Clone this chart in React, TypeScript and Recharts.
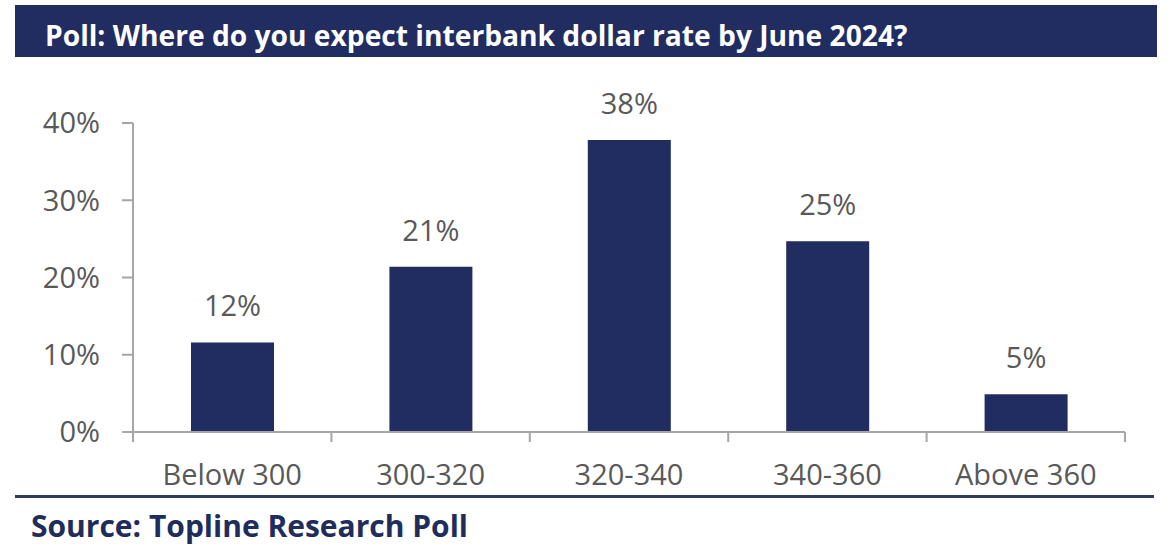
import { BarChart, Bar, XAxis, YAxis, LabelList } from "recharts";

// poll buckets and share of respondents (%)
const categories = ["Below 300", "300-320", "320-340", "340-360", "Above 360"];
const shares = [11.6, 21.4, 37.8, 24.7, 4.9];
const yTicks = [0, 10, 20, 30, 40];

const title = "Poll: Where do you expect interbank dollar rate by June 2024?";
const source = "Source: Topline Research Poll";

const NAVY = "#212d61";
const GREY_TEXT = "#595959";
const AXIS = "#a6a6a6";
const FONT = "'Open Sans', sans-serif";
const TICK_SIZE = 10;
const TICK_MARGIN = 2;

const data = categories.map((name, i) => ({ name, share: shares[i] }));

function CategoryTick(props: any) {
  const { x, y, payload, index } = props;
  const half = payload.offset ?? 0;
  const axisY = y - TICK_SIZE - TICK_MARGIN;
  return (
    <g>
      <line x1={x - half} x2={x - half} y1={axisY} y2={axisY + TICK_SIZE} stroke={AXIS} strokeWidth={2} />
      {index === categories.length - 1 && (
        <line x1={x + half} x2={x + half} y1={axisY} y2={axisY + TICK_SIZE} stroke={AXIS} strokeWidth={2} />
      )}
      <text x={x} y={y + 41} textAnchor="middle" fill={GREY_TEXT} fontSize={29} fontFamily={FONT}>
        {payload.value}
      </text>
    </g>
  );
}

export default function App() {
  return (
    <div style={{ position: "absolute", left: 0, top: 0, width: 1173, height: 554, background: "#fff", fontFamily: FONT }}>
      <div
        style={{
          position: "absolute",
          left: 15,
          top: 5,
          width: 1142,
          height: 52,
          background: NAVY,
          color: "#fff",
          fontWeight: 700,
          fontSize: 28.2,
          lineHeight: "60px",
          paddingLeft: 30,
          boxSizing: "border-box",
          whiteSpace: "nowrap",
        }}
      >
        <div style={{ height: 52, overflow: "visible" }}>{title}</div>
      </div>

      <div style={{ position: "absolute", left: 0, top: 0 }}>
        <BarChart
          width={1173}
          height={554}
          data={data}
          margin={{ top: 123, right: 48, bottom: 82, left: 53 }}
        >
          <XAxis
            dataKey="name"
            axisLine={{ stroke: AXIS, strokeWidth: 2 }}
            tickLine={false}
            tickSize={TICK_SIZE}
            tickMargin={TICK_MARGIN}
            height={40}
            interval={0}
            tick={<CategoryTick />}
          />
          <YAxis
            domain={[0, 40]}
            ticks={yTicks}
            width={80}
            tickFormatter={(v) => `${v}%`}
            axisLine={{ stroke: AXIS, strokeWidth: 2 }}
            tickLine={{ stroke: AXIS, strokeWidth: 2 }}
            tickSize={11}
            tickMargin={22}
            tick={{ fill: GREY_TEXT, fontSize: 29, fontFamily: FONT }}
          />
          <Bar dataKey="share" fill={NAVY} barSize={83} isAnimationActive={false}>
            <LabelList
              dataKey="share"
              position="top"
              offset={26}
              formatter={(v: any) => `${Math.round(Number(v))}%`}
              fill={GREY_TEXT}
              fontSize={29}
              fontFamily={FONT}
            />
          </Bar>
        </BarChart>
      </div>

      <div style={{ position: "absolute", left: 15, top: 495, width: 1139, height: 3, background: "#2e3d5c" }} />
      <div
        style={{
          position: "absolute",
          left: 31,
          top: 506,
          color: "#1f2d5c",
          fontWeight: 700,
          fontSize: 30,
          lineHeight: "40px",
          whiteSpace: "nowrap",
        }}
      >
        {source}
      </div>
    </div>
  );
}
